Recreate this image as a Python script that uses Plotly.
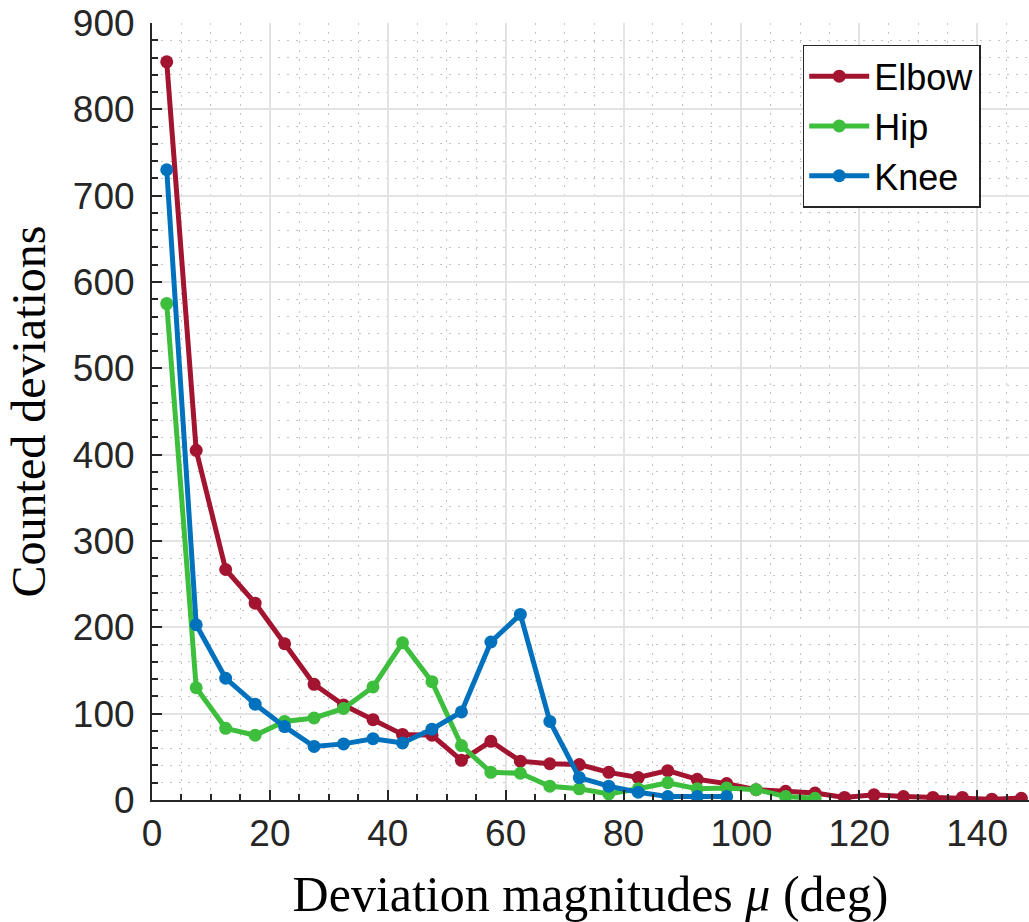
import plotly.graph_objects as go

x_centers = [2.5 + 5 * i for i in range(30)]

elbow = [855, 405, 267, 228, 181, 134, 110, 93, 76, 75, 46, 68, 45, 42, 41, 32, 26, 34, 24, 19,
         12, 10, 8, 3, 6, 4, 3, 3, 1, 2]
hip = [575, 130, 83, 75, 91, 95, 106, 131, 182, 137, 63, 32, 31, 16, 13, 7, 13, 20, 13, 14,
       12, 4, 2]
knee = [730, 203, 141, 111, 85, 62, 65, 71, 66, 82, 102, 183, 215, 91, 26, 16, 9, 4, 4, 4]

series = [("Elbow", elbow, "#A2142F"), ("Hip", hip, "#3DBE3D"), ("Knee", knee, "#0072BD")]

x_ticks = [0, 20, 40, 60, 80, 100, 120, 140]
y_ticks = [0, 100, 200, 300, 400, 500, 600, 700, 800, 900]

fig = go.Figure()
for name, vals, col in series:
    fig.add_trace(go.Scatter(
        x=x_centers[:len(vals)], y=vals, name=name, mode="lines+markers",
        line=dict(color=col, width=5), marker=dict(color=col, size=13),
        cliponaxis=True))

axis_common = dict(
    showline=True, linecolor="#262626", linewidth=2,
    ticks="inside", ticklen=10, tickwidth=2, tickcolor="#262626",
    showgrid=True, gridcolor="#e3e3e3", gridwidth=1.5,
    zeroline=False, mirror=False,
    tickfont=dict(family="Liberation Sans, Arial, sans-serif", size=37, color="#262626"),
)

fig.update_xaxes(
    range=[0, 148.8], tickvals=x_ticks, **axis_common,
    minor=dict(dtick=5, tick0=0, ticks="inside", ticklen=6, tickwidth=1.5, tickcolor="#262626",
               showgrid=True, gridcolor="#c4c4c4", griddash="2px,7px", gridwidth=1.2),
    title=dict(text="Deviation magnitudes <i>μ</i> (deg)",
               font=dict(family="Liberation Serif, DejaVu Serif, serif", size=50, color="black"),
               standoff=24),
)
fig.update_yaxes(
    range=[0, 900], tickvals=y_ticks, **axis_common,
    minor=dict(dtick=20, tick0=0, ticks="inside", ticklen=6, tickwidth=1.5, tickcolor="#262626",
               showgrid=True, gridcolor="#c4c4c4", griddash="2px,7px", gridwidth=1.2),
    ticklabelstandoff=8,
    title=dict(text="Counted deviations",
               font=dict(family="Liberation Serif, DejaVu Serif, serif", size=48, color="black"),
               standoff=12),
)

fig.update_layout(
    width=1029, height=922,
    margin=dict(l=152, r=0, t=23, b=122),
    paper_bgcolor="white", plot_bgcolor="white",
    legend=dict(x=0.742, y=0.972, xanchor="left", yanchor="top",
                bgcolor="white", bordercolor="#262626", borderwidth=1.5,
                font=dict(family="Liberation Sans, Arial, sans-serif", size=36, color="black"),
                itemwidth=60, tracegroupgap=0),
    showlegend=True,
)

fig.write_html("out.html")
